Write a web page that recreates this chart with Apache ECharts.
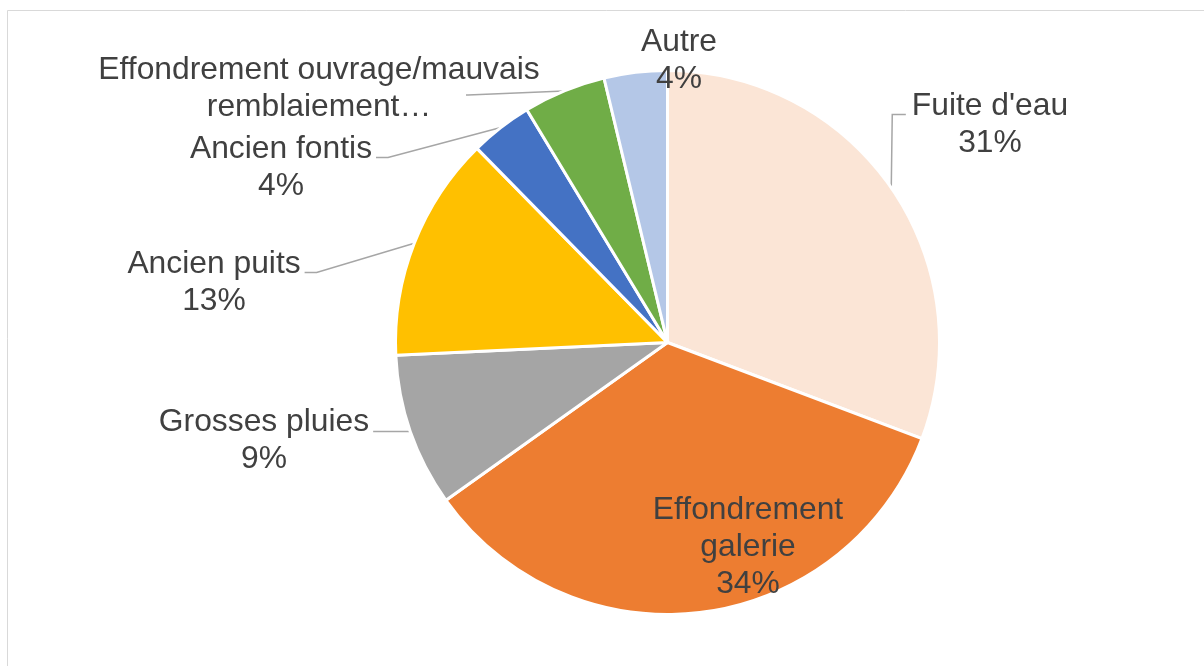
<!DOCTYPE html>
<html>
<head>
<meta charset="utf-8">
<script src="https://cdn.jsdelivr.net/npm/echarts@6/dist/echarts.min.js"></script>
<style>
html,body{margin:0;padding:0;background:#fff;overflow:hidden;}
#chart{width:1204px;height:666px;}
</style>
</head>
<body>
<div id="chart"></div>
<script>
// Data
const categories = ["Fuite d'eau", "Effondrement galerie", "Grosses pluies", "Ancien puits", "Ancien fontis", "Effondrement ouvrage/mauvais remblaiement…", "Autre"];
const values = [30.75, 34.4, 9.1, 13.4, 3.7, 4.9, 3.75];
const labelLines = ["Fuite d'eau", "Effondrement\ngalerie", "Grosses pluies", "Ancien puits", "Ancien fontis", "Effondrement ouvrage/mauvais\nremblaiement…", "Autre"];
const showPercent = [true, true, true, true, true, false, true];
const colors = ['#FBE5D6', '#ED7D31', '#A5A5A5', '#FFC000', '#4472C4', '#70AD47', '#B4C7E7'];

// Label layout (block centre, leader style)
const labelPos = [
  {x: 990, y: 125, line: 'left'},
  {x: 748, y: 547, line: null},
  {x: 264, y: 441, line: 'flat'},
  {x: 214, y: 283, line: 'right'},
  {x: 281, y: 168, line: 'right'},
  {x: 319, y: 89, line: 'wide', endX: 466},
  {x: 679, y: 61, line: null}
];

const chart = echarts.init(document.getElementById('chart'), null, {renderer: 'canvas'});
const data = categories.map((c, i) => ({
  name: c, value: values[i],
  itemStyle: {color: colors[i]},
  labelLine: {show: labelPos[i].line !== null}
}));

chart.setOption({
  animation: false,
  backgroundColor: '#ffffff',
  graphic: [{
    type: 'rect', silent: true,
    shape: {x: 7.5, y: 10.5, width: 1250, height: 720},
    style: {fill: 'none', stroke: '#d9d9d9', lineWidth: 1}
  }],
  series: [{
    type: 'pie',
    center: [667.5, 342.5],
    radius: 272,
    startAngle: 90,
    clockwise: true,
    avoidLabelOverlap: false,
    itemStyle: {borderColor: '#ffffff', borderWidth: 3},
    label: {
      show: true,
      position: 'outside',
      fontFamily: 'Liberation Sans, Arial, sans-serif',
      fontSize: 31.8,
      lineHeight: 37,
      color: '#404040',
      align: 'center',
      formatter: p => labelLines[p.dataIndex] + (showPercent[p.dataIndex] ? '\n' + Math.round(p.percent) + '%' : '')
    },
    labelLine: {show: true, lineStyle: {color: '#a6a6a6', width: 1.5}, smooth: false},
    labelLayout: function (params) {
      const i = params.dataIndex;
      const lp = labelPos[i];
      const r = params.labelRect;
      const res = {x: lp.x, y: lp.y, align: 'center', verticalAlign: 'middle'};
      const start = params.labelLinePoints ? params.labelLinePoints[0] : null;
      if (start && lp.line) {
        const firstLineY = lp.y - r.height / 2 + 18.5;
        if (lp.line === 'left') {
          const ex = lp.x - r.width / 2 - 6;
          const ey = firstLineY + 8;
          res.labelLinePoints = [start, [start[0] + 1, ey], [ex, ey]];
        } else if (lp.line === 'right') {
          const ex = lp.x + r.width / 2 + 4;
          const ey = firstLineY + 8;
          res.labelLinePoints = [start, [ex + 12, ey], [ex, ey]];
        } else if (lp.line === 'flat') {
          const ex = lp.x + r.width / 2 + 4;
          res.labelLinePoints = [start, [ex + 12, start[1]], [ex, start[1]]];
        } else {
          const ey = lp.y + 6;
          res.labelLinePoints = [start, [lp.endX + 2, ey], [lp.endX, ey]];
        }
      }
      return res;
    },
    data: data
  }]
});
</script>
</body>
</html>
